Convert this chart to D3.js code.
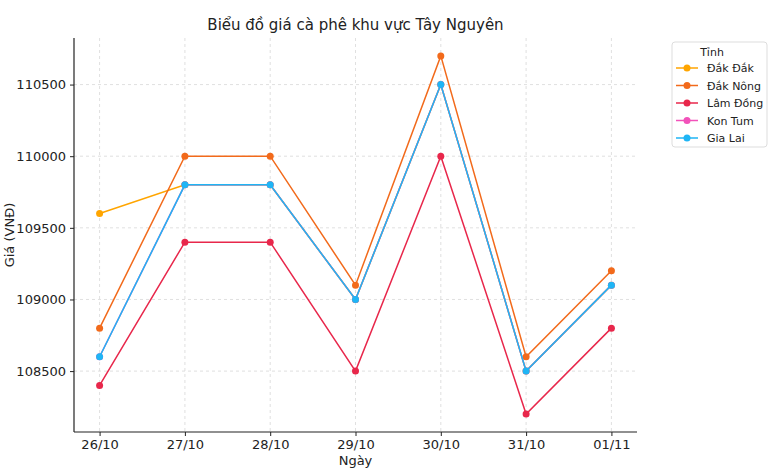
<!DOCTYPE html>
<html><head><meta charset="utf-8">
<script src="https://cdn.jsdelivr.net/npm/d3@7"></script>
<style>body{margin:0;background:#fff;} text{font-family:"DejaVu Sans",sans-serif;}</style>
</head><body><svg id="c" width="770" height="476"></svg>
<script>
const dates = ["26/10","27/10","28/10","29/10","30/10","31/10","01/11"];
const provinces = ["Đắk Đắk","Đắk Nông","Lâm Đồng","Kon Tum","Gia Lai"];
const dakDak   = [109600,109800,109800,109000,110500,108500,109100];
const dakNong  = [108800,110000,110000,109100,110700,108600,109200];
const lamDong  = [108400,109400,109400,108500,110000,108200,108800];
const konTum   = [108600,109800,109800,109000,110500,108500,109100];
const giaLai   = [108600,109800,109800,109000,110500,108500,109100];
const yTicks = [108500,109000,109500,110000,110500];
const colors = ["#FFA500","#F26A1B","#E8274B","#F252BA","#1FB5F5"];
const seriesValues = [dakDak,dakNong,lamDong,konTum,giaLai];

const svg = d3.select("#c");
const L=74,R=637,T=38,B=432;
const x = d3.scalePoint().domain(dates).range([L,R]).padding(0.3);
const y = d3.scaleLinear().domain([108075,110825]).range([B,T]);

// grid
const g = svg.append("g");
g.selectAll(".gx").data(dates).enter().append("line")
 .attr("x1",d=>x(d)).attr("x2",d=>x(d)).attr("y1",T).attr("y2",B)
 .attr("stroke","#d8d8d8").attr("stroke-dasharray","3,3").attr("stroke-width",0.8);
g.selectAll(".gy").data(yTicks).enter().append("line")
 .attr("x1",L).attr("x2",R).attr("y1",d=>y(d)).attr("y2",d=>y(d))
 .attr("stroke","#d8d8d8").attr("stroke-dasharray","3,3").attr("stroke-width",0.8);

// axes
const xa = svg.append("g").attr("transform",`translate(0,${B})`)
 .call(d3.axisBottom(x).tickSize(4).tickPadding(4).tickSizeOuter(0));
const ya = svg.append("g").attr("transform",`translate(${L},0)`)
 .call(d3.axisLeft(y).tickValues(yTicks).tickFormat(d3.format("d")).tickSize(4).tickPadding(4).tickSizeOuter(0));
[xa,ya].forEach(a=>{a.selectAll("text").attr("font-size",13).attr("fill","#222").style("font-family","DejaVu Sans");
 a.selectAll("line").attr("stroke","#222");});
xa.select(".domain").attr("d",`M${L},0H${R}`).attr("stroke","#222").attr("stroke-width",1.2);
ya.select(".domain").attr("d",`M0,${B}V${T}`).attr("stroke","#222").attr("stroke-width",1.2);

// lines
const line = d3.line().x((d,i)=>x(dates[i])).y(d=>y(d));
seriesValues.forEach((vals,k)=>{
  svg.append("path").attr("d",line(vals)).attr("fill","none")
   .attr("stroke",colors[k]).attr("stroke-width",1.5);
  svg.selectAll(null).data(vals).enter().append("circle")
   .attr("cx",(d,i)=>x(dates[i])).attr("cy",d=>y(d)).attr("r",3.5).attr("fill",colors[k]);
});

// titles
svg.append("text").attr("x",(L+R)/2).attr("y",30).attr("text-anchor","middle")
 .attr("font-size",15).attr("fill","#222").text("Biểu đồ giá cà phê khu vực Tây Nguyên");
svg.append("text").attr("x",(L+R)/2).attr("y",465).attr("text-anchor","middle")
 .attr("font-size",13).attr("fill","#222").text("Ngày");
svg.append("text").attr("transform",`translate(14,${(T+B)/2}) rotate(-90)`).attr("text-anchor","middle")
 .attr("font-size",13).attr("fill","#222").text("Giá (VNĐ)");

// legend
const lg = svg.append("g");
lg.append("rect").attr("x",672).attr("y",42).attr("width",95).attr("height",105)
 .attr("rx",3).attr("fill","#fff").attr("stroke","#ddd");
lg.append("text").attr("x",712).attr("y",56).attr("text-anchor","middle")
 .attr("font-size",11).attr("fill","#222").text("Tỉnh");
provinces.forEach((p,k)=>{
  const yy = 68 + k*17.5;
  lg.append("line").attr("x1",676).attr("x2",698).attr("y1",yy).attr("y2",yy)
   .attr("stroke",colors[k]).attr("stroke-width",1.5);
  lg.append("circle").attr("cx",687).attr("cy",yy).attr("r",3.5).attr("fill",colors[k]);
  lg.append("text").attr("x",707).attr("y",yy+4).attr("font-size",11).attr("fill","#222").text(p);
});
</script></body></html>
